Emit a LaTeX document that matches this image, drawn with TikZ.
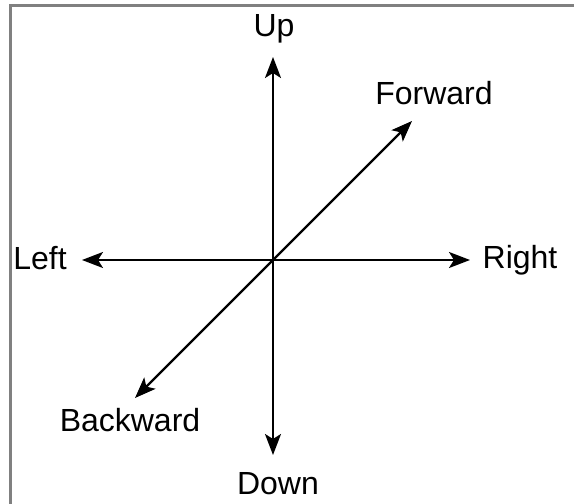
\documentclass[tikz,border=0pt]{standalone}
\usepackage{fontspec}
\setmainfont{Liberation Sans}
\usetikzlibrary{arrows.meta}
\begin{document}
\begin{tikzpicture}[x=1pt,y=1pt,>={Stealth[length=21pt,width=16pt,inset=5pt]},
    lbl/.style={anchor=base,font=\fontsize{32}{38}\selectfont}]
   \useasboundingbox (0,0) rectangle (574,504);
   %frame
   \draw[gray,line width=3pt] (10.5,0) -- (10.5,498.5) -- (574,498.5);
   %centre and tips
   \coordinate (o) at (273,244);
   \coordinate (up) at (273,447);
   \coordinate (down) at (273,49);
   \coordinate (left) at (82,244);
   \coordinate (right) at (470,244);
   \coordinate (fwd) at (412,383);
   \coordinate (bwd) at (135,106);
   %axes
   \draw[->,line width=2.2pt] (o) -- (up);
   \draw[->,line width=2.2pt] (o) -- (down);
   \draw[->,line width=2.2pt] (o) -- (left);
   \draw[->,line width=2.2pt] (o) -- (right);
   \draw[->,line width=2.2pt] (o) -- (fwd);
   \draw[->,line width=2.2pt] (o) -- (bwd);
   %labels
   \node[lbl] (tup) at (274,467) {Up};
   \node[lbl] (tdown) at (278,9) {Down};
   \node[lbl] (tleft) at (40,234) {Left};
   \node[lbl] (tright) at (520,235) {Right};
   \node[lbl] (tfwd) at (434,399) {Forward};
   \node[lbl] (tbwd) at (130,72) {Backward};
\end{tikzpicture}
\end{document}
